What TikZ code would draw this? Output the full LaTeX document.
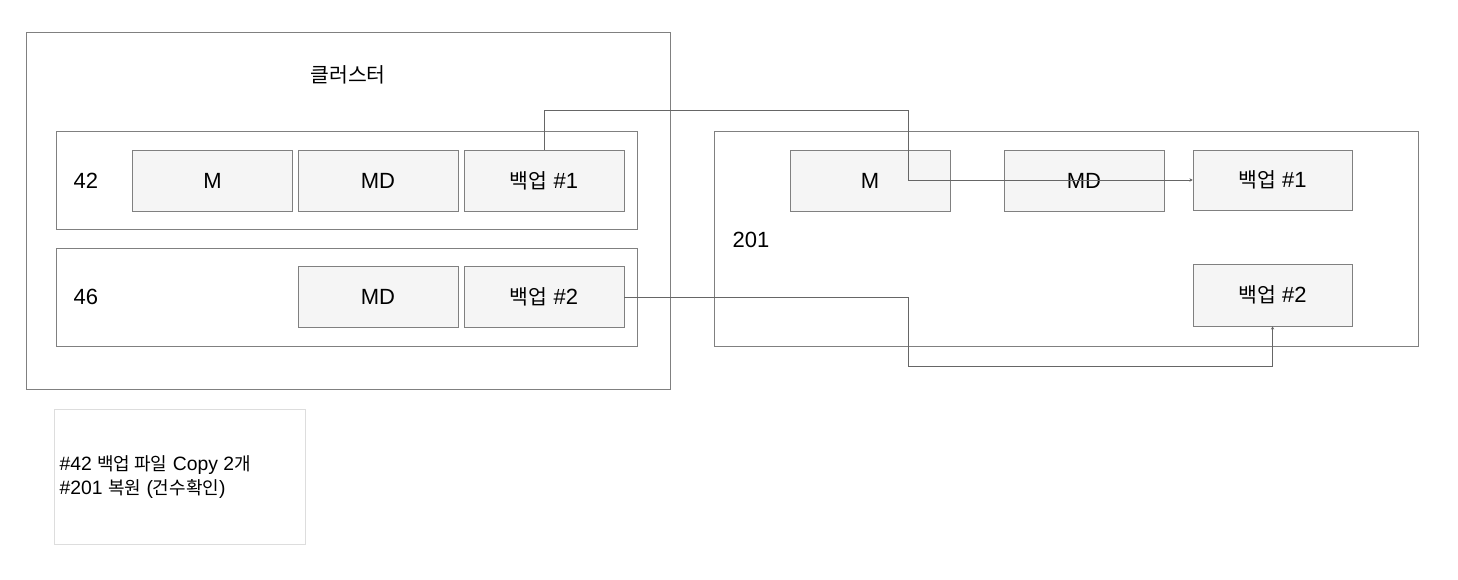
\documentclass[tikz,border=0pt]{standalone}
\usepackage{fontspec}
\setmainfont{Liberation Sans}
\newfontfamily\kr{Noto Sans CJK KR}[Scale=0.93]
\usepackage{tikz}
\usetikzlibrary{arrows.meta}
\usepackage{xcolor}
\definecolor{boxline}{RGB}{128, 128, 128}
\definecolor{wireline}{RGB}{102, 102, 102}
\definecolor{boxfill}{RGB}{245, 245, 245}
\definecolor{noteline}{RGB}{221, 221, 221}

\begin{document}
\begin{tikzpicture}[x=0.75pt, y=-0.75pt,
    group/.style={draw=boxline, minimum width=#1},
    cell/.style={draw=boxline, fill=boxfill, minimum width=120pt, minimum height=45.75pt, font=\fontsize{16.5pt}{19pt}\selectfont},
    tag/.style={anchor=west, font=\fontsize{16.5pt}{19pt}\selectfont},
    wire/.style={draw=wireline, -{Stealth[length=2.5pt, width=2.5pt]}}]
      \useasboundingbox (0,0) rectangle (1458,580);

      % cluster
      \node[font=\fontsize{16.5pt}{19pt}\selectfont\kr] (title) at (348, 75) {클러스터};
      \node[group=483pt, minimum height=267.75pt] (cluster) at (348, 210.5) {};
      \node[group=435.75pt, minimum height=73.5pt] (row42) at (346.5, 180) {};
      \node[group=435.75pt, minimum height=73.5pt] (row46) at (346.5, 297) {};
      \node[tag] (lbl42) at (69, 181) {42};
      \node[tag] (lbl46) at (69, 297) {46};

      \node[cell] (m42) at (212.5, 180.5) {M};
      \node[cell] (md42) at (378, 180.5) {MD};
      \node[cell] (bak1) at (544, 180.5) {{\kr 백업} \#1};
      \node[cell] (md46) at (378, 297) {MD};
      \node[cell] (bak2) at (544, 297) {{\kr 백업} \#2};

      % 201
      \node[group=528pt, minimum height=161.25pt] (srv) at (1066, 238.5) {};
      \node[tag] (lbl201) at (728, 240) {201};
      \node[cell] (m201) at (870, 180.5) {M};
      \node[cell] (md201) at (1084, 180.5) {MD};
      \node[cell, minimum width=119.25pt, minimum height=45pt] (rbak1) at (1272.5, 180) {{\kr 백업} \#1};
      \node[cell, minimum width=119.25pt, minimum height=46.5pt] (rbak2) at (1272.5, 295) {{\kr 백업} \#2};

      % note
      \node[draw=noteline, minimum width=188.25pt, minimum height=101.25pt] (note) at (179.5, 476.5) {};
      \node[anchor=west, align=left, font=\fontsize{14.5pt}{18pt}\selectfont] (notetext) at (55, 477) {\#42 {\kr 백업 파일} Copy 2{\kr 개}\\\#201 {\kr 복원} ({\kr 건수확인})};

      \draw[wire] (bak1.north) |- (908, 110) |- (rbak1.west);
      \draw[wire] (bak2.east) -| (908, 366) -| (rbak2.south);
\end{tikzpicture}
\end{document}
